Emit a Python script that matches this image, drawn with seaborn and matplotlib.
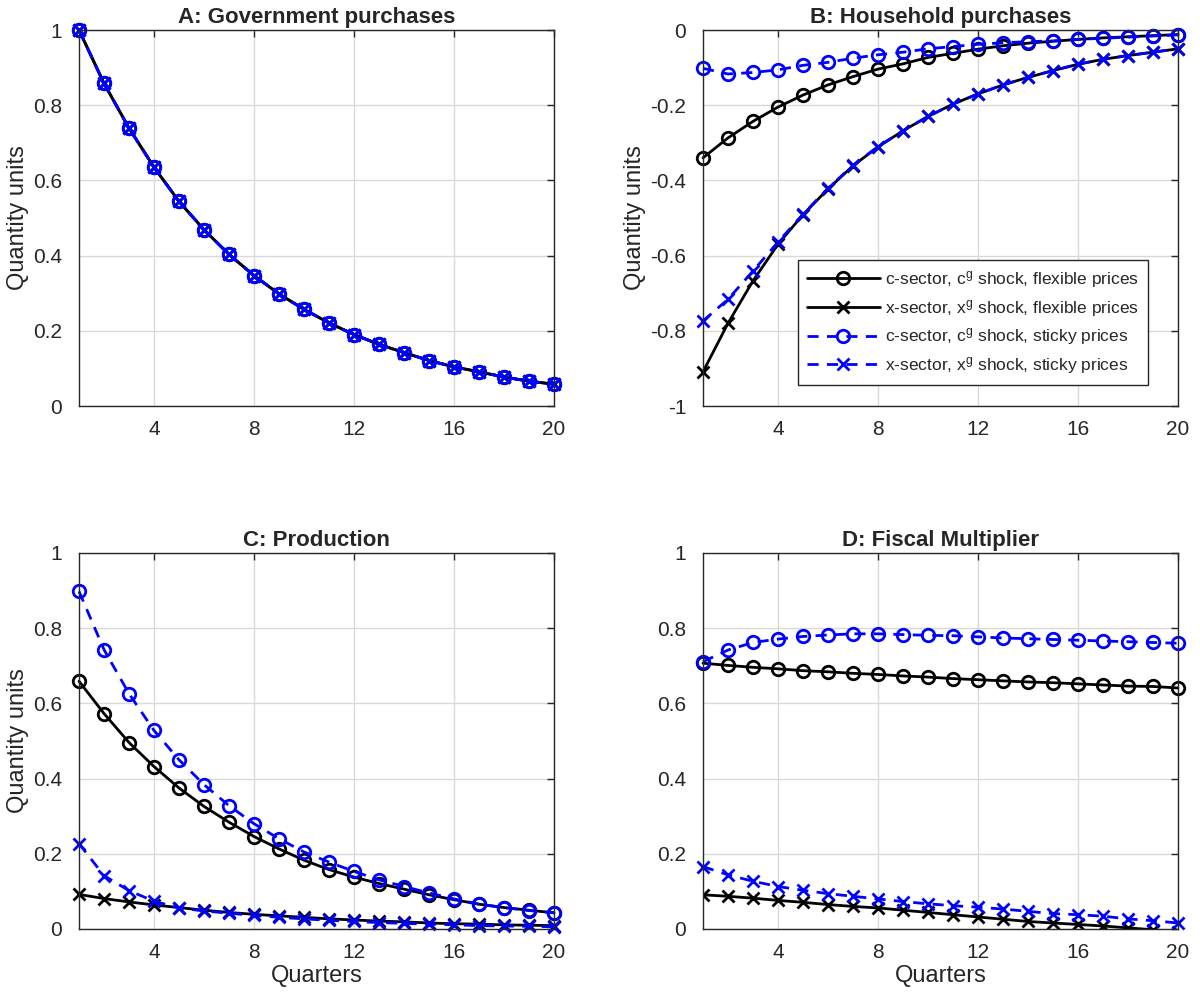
import matplotlib
matplotlib.use("Agg")
import matplotlib.pyplot as plt
from matplotlib.ticker import FuncFormatter
import seaborn as sns

# quarters on the horizontal axis
quarters = list(range(1, 21))

# A: government purchases (the four cases lie on top of each other)
gov = [1.000, 0.858, 0.739, 0.635, 0.544, 0.469, 0.403, 0.347, 0.298, 0.257,
       0.221, 0.190, 0.164, 0.142, 0.121, 0.104, 0.091, 0.077, 0.066, 0.058]

# B: household purchases
hh_c_flex = [-0.340, -0.287, -0.243, -0.205, -0.173, -0.146, -0.124, -0.104, -0.090, -0.073,
             -0.062, -0.051, -0.042, -0.035, -0.030, -0.025, -0.021, -0.018, -0.015, -0.012]
hh_x_flex = [-0.909, -0.780, -0.667, -0.570, -0.491, -0.423, -0.361, -0.311, -0.268, -0.230,
             -0.197, -0.170, -0.146, -0.126, -0.108, -0.091, -0.078, -0.068, -0.059, -0.050]
hh_c_sticky = [-0.102, -0.117, -0.113, -0.106, -0.094, -0.086, -0.075, -0.066, -0.059, -0.050,
               -0.044, -0.038, -0.034, -0.031, -0.029, -0.025, -0.022, -0.019, -0.016, -0.013]
hh_x_sticky = [-0.774, -0.716, -0.641, -0.564, -0.490, -0.421, -0.360, -0.310, -0.268, -0.230,
               -0.197, -0.170, -0.146, -0.126, -0.108, -0.091, -0.078, -0.068, -0.059, -0.050]

# C: production
prod_c_flex = [0.659, 0.573, 0.496, 0.432, 0.375, 0.326, 0.284, 0.246, 0.213, 0.183,
               0.158, 0.138, 0.121, 0.106, 0.091, 0.078, 0.066, 0.057, 0.050, 0.043]
prod_x_flex = [0.092, 0.081, 0.072, 0.064, 0.057, 0.050, 0.044, 0.039, 0.035, 0.031,
               0.027, 0.024, 0.021, 0.019, 0.016, 0.014, 0.013, 0.011, 0.010, 0.009]
prod_c_sticky = [0.898, 0.743, 0.626, 0.528, 0.450, 0.384, 0.328, 0.280, 0.240, 0.205,
                 0.178, 0.153, 0.131, 0.113, 0.096, 0.080, 0.066, 0.057, 0.049, 0.043]
prod_x_sticky = [0.227, 0.142, 0.102, 0.074, 0.056, 0.048, 0.042, 0.036, 0.031, 0.027,
                 0.023, 0.020, 0.017, 0.015, 0.013, 0.011, 0.009, 0.008, 0.007, 0.006]

# D: fiscal multiplier
mult_c_flex = [0.707, 0.701, 0.696, 0.692, 0.687, 0.684, 0.680, 0.677, 0.673, 0.670,
               0.666, 0.663, 0.660, 0.657, 0.655, 0.652, 0.649, 0.646, 0.645, 0.641]
mult_x_flex = [0.091, 0.087, 0.082, 0.076, 0.071, 0.065, 0.060, 0.056, 0.050, 0.044,
               0.038, 0.032, 0.026, 0.020, 0.016, 0.012, 0.008, 0.003, -0.002, -0.007]
mult_c_sticky = [0.711, 0.742, 0.762, 0.771, 0.778, 0.782, 0.785, 0.785, 0.783, 0.781,
                 0.780, 0.777, 0.774, 0.772, 0.770, 0.768, 0.766, 0.764, 0.762, 0.760]
mult_x_sticky = [0.166, 0.144, 0.127, 0.113, 0.103, 0.094, 0.087, 0.080, 0.073, 0.067,
                 0.062, 0.058, 0.053, 0.047, 0.041, 0.038, 0.034, 0.027, 0.022, 0.016]

labels = [r"c-sector, c$^{\mathrm{g}}$ shock, flexible prices",
          r"x-sector, x$^{\mathrm{g}}$ shock, flexible prices",
          r"c-sector, c$^{\mathrm{g}}$ shock, sticky prices",
          r"x-sector, x$^{\mathrm{g}}$ shock, sticky prices"]
styles = [("black", "-", "o"), ("black", "-", "x"),
          ("blue", "--", "o"), ("blue", "--", "x")]

sns.set_theme(style="white")
plt.rcParams["font.family"] = ["Liberation Sans", "DejaVu Sans"]
plt.rcParams["mathtext.fontset"] = "custom"
plt.rcParams["mathtext.rm"] = "Liberation Sans"
plt.rcParams["mathtext.it"] = "Liberation Sans:italic"

fig = plt.figure(figsize=(12, 10.02), dpi=100)
W, H = 1200, 1002
boxes = [(79, 30), (703, 30), (79, 553), (703, 553)]
axes = [fig.add_axes([x / W, 1 - (y + 376) / H, 475 / W, 376 / H]) for x, y in boxes]

panels = [
    ("A: Government purchases", [gov, gov, gov, gov], (0, 1)),
    ("B: Household purchases", [hh_c_flex, hh_x_flex, hh_c_sticky, hh_x_sticky], (-1, 0)),
    ("C: Production", [prod_c_flex, prod_x_flex, prod_c_sticky, prod_x_sticky], (0, 1)),
    ("D: Fiscal Multiplier", [mult_c_flex, mult_x_flex, mult_c_sticky, mult_x_sticky], (0, 1)),
]

for i, (ax, (title, series, ylim)) in enumerate(zip(axes, panels)):
    for j, vals in enumerate(series):
        color, ls, mk = styles[j]
        # the flexible x-sector multiplier dips below zero and gets clipped
        clip = (i == 3 and j == 1)
        sns.lineplot(x=quarters, y=vals, ax=ax, color=color, linestyle=ls, linewidth=2,
                     marker=mk, markersize=9 if mk == "o" else 8,
                     markerfacecolor="none", markeredgecolor=color, markeredgewidth=2,
                     label=labels[j], legend=False, clip_on=clip)
    ax.set_xlim(1, 20)
    ax.set_ylim(*ylim)
    ax.set_xticks([4, 8, 12, 16, 20])
    ax.set_yticks([ylim[0] + k * 0.2 for k in range(6)])
    ax.yaxis.set_major_formatter(FuncFormatter(lambda v, p: "%g" % round(v, 2)))
    ax.grid(True, color="#d9d9d9", linewidth=1)
    ax.set_axisbelow(True)
    ax.tick_params(direction="in", top=True, right=True, length=5, width=1,
                   labelsize=15, colors="#262626")
    ax.tick_params(axis="x", pad=10)
    ax.tick_params(axis="y", pad=12)
    for sp in ax.spines.values():
        sp.set_color("#262626")
        sp.set_linewidth(1)
    ax.set_title(title, fontsize=16, fontweight="bold", pad=5)
    if i < 3:
        ax.set_ylabel("Quantity units", fontsize=17, color="#262626", labelpad=3)
    else:
        ax.set_ylabel("")
    if i >= 2:
        ax.set_xlabel("Quarters", fontsize=17, color="#262626", labelpad=2)

# dashed lines
for ax in axes:
    for ln in ax.get_lines():
        if ln.get_linestyle() == "--":
            ln.set_dashes((4, 3))

ax = axes[1]
leg = ax.legend(ax.get_lines()[:4], labels, loc="lower left", bbox_to_anchor=(0.2, 0.056),
                borderaxespad=0, fontsize=12.5, frameon=True, fancybox=False, handlelength=4.2,
                borderpad=0.5, labelspacing=0.45, handletextpad=0.3)
leg.get_frame().set_edgecolor("#262626")
leg.get_frame().set_linewidth(1)
leg.get_frame().set_alpha(1)

fig.savefig("out.png", dpi=100)
